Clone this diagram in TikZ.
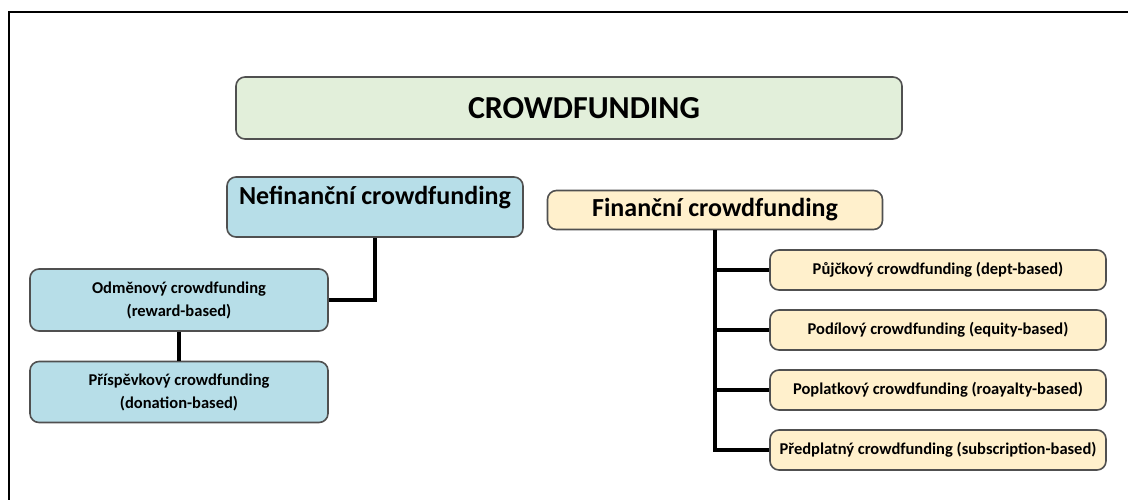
\documentclass[tikz,border=0pt]{standalone}
\usepackage{fontspec}
\setmainfont{Carlito}
\usetikzlibrary{positioning}
\definecolor{zelena}{HTML}{E2EFDA}
\definecolor{modra}{HTML}{B7DEE8}
\definecolor{zluta}{HTML}{FFF0CC}
\definecolor{okraj}{HTML}{505050}

\begin{document}
\begin{tikzpicture}[x=1pt,y=-1pt,
    box/.style={draw=okraj,line width=1.6pt,rounded corners=9pt,align=center,inner sep=0pt},
    velky/.style={font=\bfseries\fontsize{32}{38}\selectfont},
    stredni/.style={font=\bfseries\fontsize{26}{30}\selectfont},
    maly/.style={font=\bfseries\fontsize{16.5}{23}\selectfont},
    spoj/.style={line width=3.5pt,black}]
  \useasboundingbox (0,0) rectangle (1128,499);
  % ramecek
  \draw[line width=2pt] (9,520) -- (9,12) -- (1150,12);

  % hlavni box
  \node[box,fill=zelena,minimum width=666pt,minimum height=62pt] (crowd) at (569,108) {};
  \node[velky] at ([xshift=15pt]crowd.center) {CROWDFUNDING};

  % nefinancni vetev
  \node[box,fill=modra,minimum width=296pt,minimum height=60pt] (nefin) at (375,207) {};
  \node[stredni,below=6pt] at (nefin.north) {Nefinanční crowdfunding};
  \node[box,fill=modra,maly,minimum width=298pt,minimum height=62pt] (odm) at (179,300) {Odměnový crowdfunding\\(reward-based)};
  \node[box,fill=modra,maly,minimum width=298pt,minimum height=61pt] (prisp) at (179,392) {Příspěvkový crowdfunding\\(donation-based)};

  % financni vetev
  \node[box,fill=zluta,stredni,minimum width=335pt,minimum height=39pt] (fin) at (715,210) {Finanční crowdfunding};
  \node[box,fill=zluta,maly,minimum width=336pt,minimum height=40pt] (r1) at (938,270) {Půjčkový crowdfunding (dept-based)};
  \node[box,fill=zluta,maly,minimum width=336pt,minimum height=40pt] (r2) at (938,330) {Podílový crowdfunding (equity-based)};
  \node[box,fill=zluta,maly,minimum width=336pt,minimum height=40pt] (r3) at (938,390) {Poplatkový crowdfunding (roayalty-based)};
  \node[box,fill=zluta,maly,minimum width=336pt,minimum height=40pt] (r4) at (938,450) {Předplatný crowdfunding (subscription-based)};

  % spojnice
  \draw[spoj] (nefin.south) |- (odm.east);
  \draw[spoj] (odm.south) -- (prisp.north);
  \draw[spoj] (fin.south) |- (r4.west);
  \foreach \n in {r1,r2,r3}
    \draw[spoj] (fin.south |- \n.west) -- (\n.west);
\end{tikzpicture}
\end{document}
